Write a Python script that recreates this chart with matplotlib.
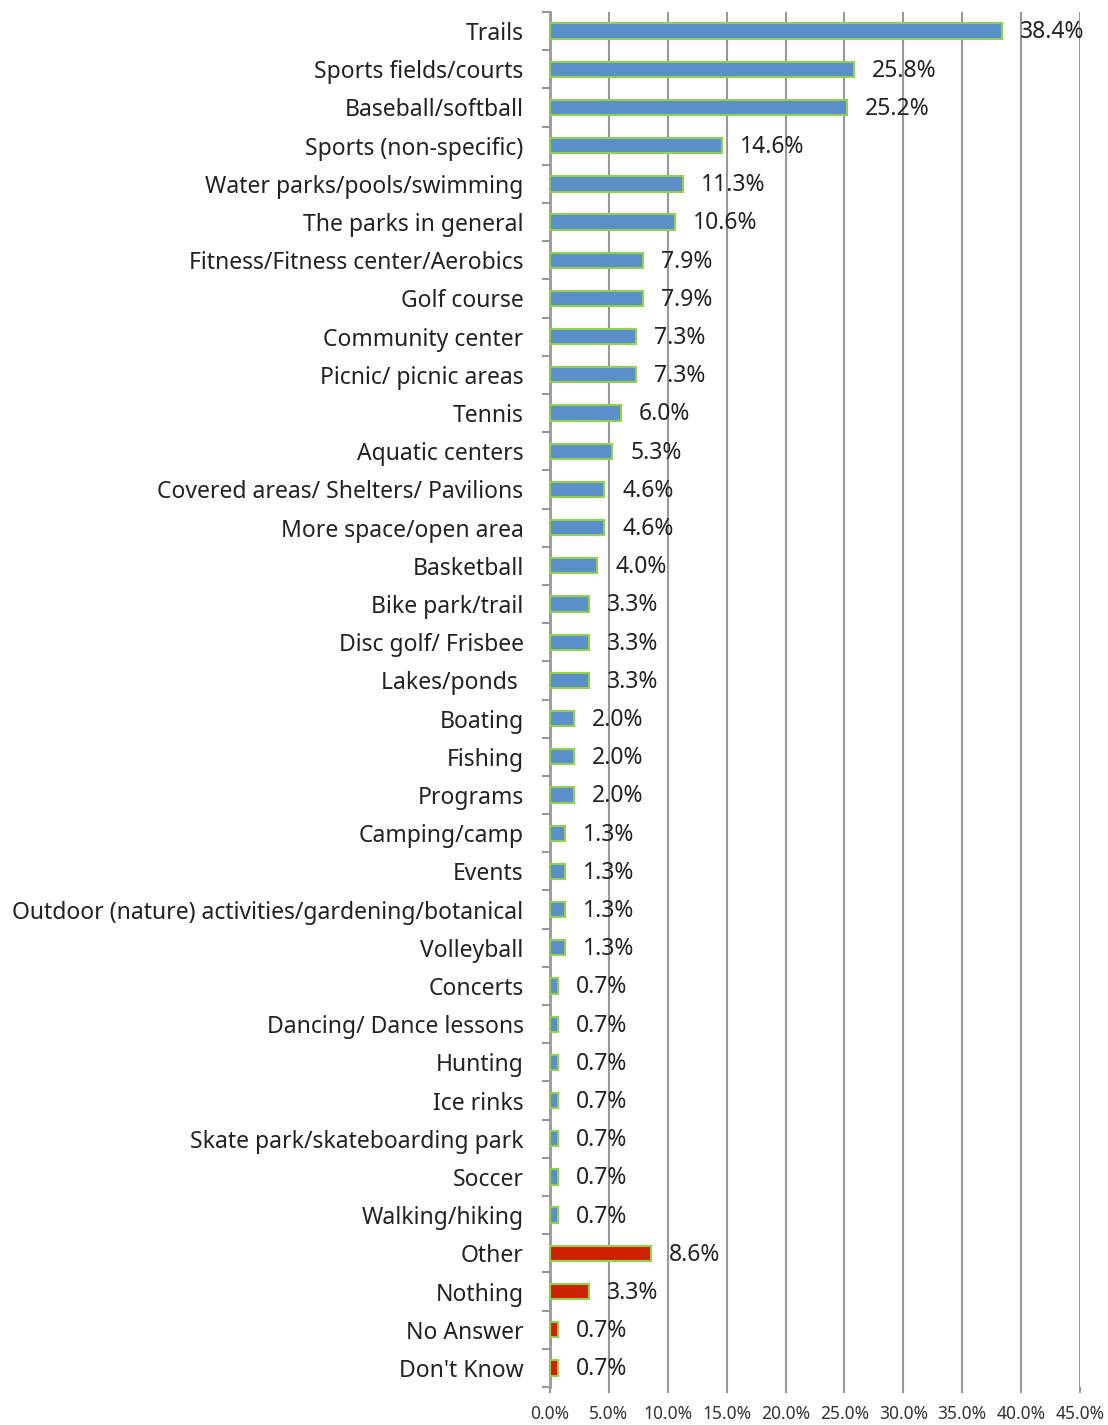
import numpy as np
import matplotlib.pyplot as plt

categories = ['Trails', 'Sports fields/courts', 'Baseball/softball', 'Sports (non-specific)',
              'Water parks/pools/swimming', 'The parks in general', 'Fitness/Fitness center/Aerobics',
              'Golf course', 'Community center', 'Picnic/ picnic areas', 'Tennis', 'Aquatic centers',
              'Covered areas/ Shelters/ Pavilions', 'More space/open area', 'Basketball',
              'Bike park/trail', 'Disc golf/ Frisbee', 'Lakes/ponds ', 'Boating', 'Fishing',
              'Programs', 'Camping/camp', 'Events', 'Outdoor (nature) activities/gardening/botanical',
              'Volleyball', 'Concerts', 'Dancing/ Dance lessons', 'Hunting', 'Ice rinks',
              'Skate park/skateboarding park', 'Soccer', 'Walking/hiking', 'Other', 'Nothing',
              'No Answer', "Don't Know"]
values = [38.4, 25.8, 25.2, 14.6, 11.3, 10.6, 7.9, 7.9, 7.3, 7.3, 6.0, 5.3, 4.6, 4.6, 4.0,
          3.3, 3.3, 3.3, 2.0, 2.0, 2.0, 1.3, 1.3, 1.3, 1.3, 0.7, 0.7, 0.7, 0.7, 0.7, 0.7, 0.7,
          8.6, 3.3, 0.7, 0.7]
red_items = ['Other', 'Nothing', 'No Answer', "Don't Know"]

plt.rcParams['font.family'] = ['Noto Sans', 'DejaVu Sans']

fig = plt.figure(figsize=(11.08, 14.25), dpi=100)
ax = fig.add_axes([550 / 1108, 1 - 1387 / 1425, 530 / 1108, 1375 / 1425])

n = len(categories)
y = np.arange(n)
colors = ['#CC2200' if c in red_items else '#5B8FC9' for c in categories]
ax.barh(y, values, height=0.4, color=colors, edgecolor='#92D050', linewidth=1.5, zorder=3)

for yi, v in zip(y, values):
    ax.annotate(f'{v:.1f}%', (v, yi), xytext=(13, -1), textcoords='offset points',
                va='center', ha='left', fontsize=16.5, color='#222222', zorder=4)

ax.set_xlim(0, 45)
ax.set_ylim(n - 0.5, -0.5)
ax.set_xticks(np.arange(0, 46, 5))
ax.set_xticklabels([f'{t:.1f}%' for t in np.arange(0, 46, 5)], fontsize=12.5, color='#333333')
ax.set_yticks(y)
ax.set_yticklabels(categories, fontsize=16.5, color='#222222')
ax.set_yticks(np.arange(-0.5, n, 1), minor=True)
ax.tick_params(axis='y', which='major', length=0, pad=19)
ax.tick_params(axis='y', which='minor', length=6, color='#999999', width=1.5)
ax.tick_params(axis='x', length=4, color='#999999', width=1.5, pad=9)
ax.grid(axis='x', color='#999999', linewidth=1.5, zorder=0)
for s in ['top', 'right', 'bottom']:
    ax.spines[s].set_visible(False)
ax.spines['left'].set_color('#999999')
ax.spines['left'].set_linewidth(2)

fig.savefig('out.png', dpi=100)
